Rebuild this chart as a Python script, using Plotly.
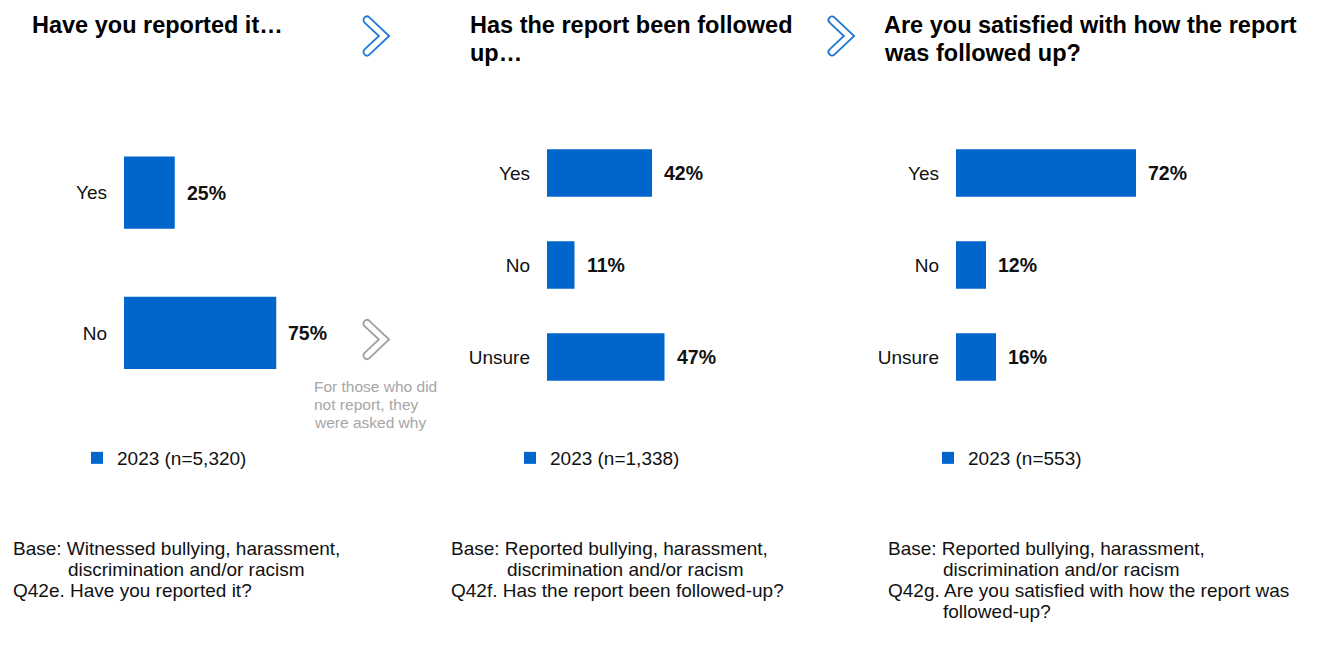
import plotly.graph_objects as go

W, H = 1322, 664
FONT = "Liberation Sans, Arial, sans-serif"
BLUE = "#0066CC"

# ---- data -------------------------------------------------------------
reported_cats = ["Yes", "No"]
reported_vals = [25, 75]
reported_name = "2023 (n=5,320)"

followed_cats = ["Yes", "No", "Unsure"]
followed_vals = [42, 11, 47]
followed_name = "2023 (n=1,338)"

satisfied_cats = ["Yes", "No", "Unsure"]
satisfied_vals = [72, 12, 16]
satisfied_name = "2023 (n=553)"

titles = [
    ["Have you reported it…"],
    ["Has the report been followed", "up…"],
    ["Are you satisfied with how the report", "was followed up?"],
]

footnotes = [
    [("Base: Witnessed bullying, harassment,", 0), ("discrimination and/or racism", 1),
     ("Q42e. Have you reported it?", 0)],
    [("Base: Reported bullying, harassment,", 0), ("discrimination and/or racism", 1),
     ("Q42f. Has the report been followed-up?", 0)],
    [("Base: Reported bullying, harassment,", 0), ("discrimination and/or racism", 1),
     ("Q42g. Are you satisfied with how the report was", 0), ("followed-up?", 1)],
]

note_lines = ["For those who did", "not report, they", "were asked why"]


def px(x):
    return x / W


def py(y):
    return 1 - y / H


# annotation text sits a few pixels inside its box; compensate
PAD = 2

# ---- panel geometry (pixels) -----------------------------------------
panels = [
    dict(cats=reported_cats, vals=reported_vals, name=reported_name,
         x0=124, xw=203, y0=122.5, y1=403, width=0.514,
         title_x=32, foot_x=13, foot_ind=68, leg_x=117),
    dict(cats=followed_cats, vals=followed_vals, name=followed_name,
         x0=547, xw=250, y0=127, y1=403, width=0.515,
         title_x=470, foot_x=451, foot_ind=507, leg_x=550),
    dict(cats=satisfied_cats, vals=satisfied_vals, name=satisfied_name,
         x0=956, xw=250, y0=127, y1=403, width=0.515,
         title_x=884, foot_x=888, foot_ind=943, leg_x=968),
]

fig = go.Figure()
annotations = []
legend_keys = ["legend", "legend2", "legend3"]

for i, p in enumerate(panels):
    sfx = "" if i == 0 else str(i + 1)
    fig.add_trace(go.Bar(
        x=p["vals"], y=p["cats"], orientation="h",
        width=[p["width"]] * len(p["vals"]),
        marker=dict(color=BLUE, line=dict(width=0)),
        name=p["name"], showlegend=True, legend=legend_keys[i],
        xaxis="x" + sfx, yaxis="y" + sfx, hoverinfo="skip",
    ))
    fig.update_layout(**{
        "xaxis" + sfx: dict(domain=[px(p["x0"]), px(p["x0"] + p["xw"])],
                            anchor="y" + sfx, range=[0, 100], visible=False,
                            fixedrange=True),
        "yaxis" + sfx: dict(domain=[py(p["y1"]), py(p["y0"])], anchor="x" + sfx,
                            categoryorder="array", categoryarray=p["cats"],
                            range=[len(p["cats"]) - 0.5, -0.5],
                            showgrid=False, zeroline=False, showline=False,
                            ticks="", ticklabelstandoff=16,
                            tickfont=dict(size=19, color="#111111", family=FONT),
                            fixedrange=True),
        legend_keys[i]: dict(x=px(p["leg_x"] - 40), y=py(458), xanchor="left",
                             yanchor="middle", bgcolor="rgba(0,0,0,0)",
                             font=dict(size=19, color="#111111", family=FONT),
                             borderwidth=0),
    })
    # value labels
    for c, v in zip(p["cats"], p["vals"]):
        annotations.append(dict(
            x=v, y=c, xref="x" + sfx, yref="y" + sfx, text=f"<b>{v}%</b>",
            showarrow=False, xanchor="left", yanchor="middle", xshift=10,
            font=dict(size=19.5, color="#111111", family=FONT)))
    # titles
    for j, line in enumerate(titles[i]):
        annotations.append(dict(
            x=px(p["title_x"] - PAD), y=py(24.5 + 28.5 * j), xref="paper", yref="paper",
            text=f"<b>{line}</b>", showarrow=False, xanchor="left",
            yanchor="middle", font=dict(size=23.5, color="#000000", family=FONT)))
    # footnotes
    for j, (line, ind) in enumerate(footnotes[i]):
        annotations.append(dict(
            x=px((p["foot_ind"] if ind else p["foot_x"]) - PAD), y=py(548.5 + 21 * j),
            xref="paper", yref="paper", text=line, showarrow=False,
            xanchor="left", yanchor="middle",
            font=dict(size=19, color="#111111", family=FONT)))

for j, line in enumerate(note_lines):
    annotations.append(dict(
        x=px(314 - PAD), y=py(386 + 18 * j), xref="paper", yref="paper", text=line,
        showarrow=False, xanchor="left", yanchor="middle",
        font=dict(size=15.5, color="#A6A6A6", family=FONT)))


def chevron(ox, oy, color):
    pts = [
        ("M", [(6.4, 1.45)]), ("L", [(26.1, 20)]), ("L", [(6.4, 38.55)]),
        ("C", [(3.0, 41.75), (-1.8, 36.65), (1.6, 33.45)]),
        ("L", [(15.9, 20)]), ("L", [(1.6, 6.55)]),
        ("C", [(-1.8, 3.35), (3.0, -1.75), (6.4, 1.45)]),
    ]
    d = ""
    for cmd, coords in pts:
        d += cmd + " ".join(f"{px(ox + x):.5f},{py(oy + y):.5f}" for x, y in coords) + " "
    return dict(type="path", path=d + "Z", xref="paper", yref="paper",
                line=dict(color=color, width=1.8), fillcolor="rgba(0,0,0,0)")


shapes = [chevron(363, 16, "#1E78D6"), chevron(828, 16, "#1E78D6"),
          chevron(363, 319.5, "#A0A0A0")]

fig.update_layout(
    width=W, height=H, margin=dict(l=0, r=0, t=0, b=0),
    paper_bgcolor="white", plot_bgcolor="white",
    font=dict(family=FONT, color="#111111"),
    annotations=annotations, shapes=shapes,
)

fig.write_html("out.html", config={"displayModeBar": False})
